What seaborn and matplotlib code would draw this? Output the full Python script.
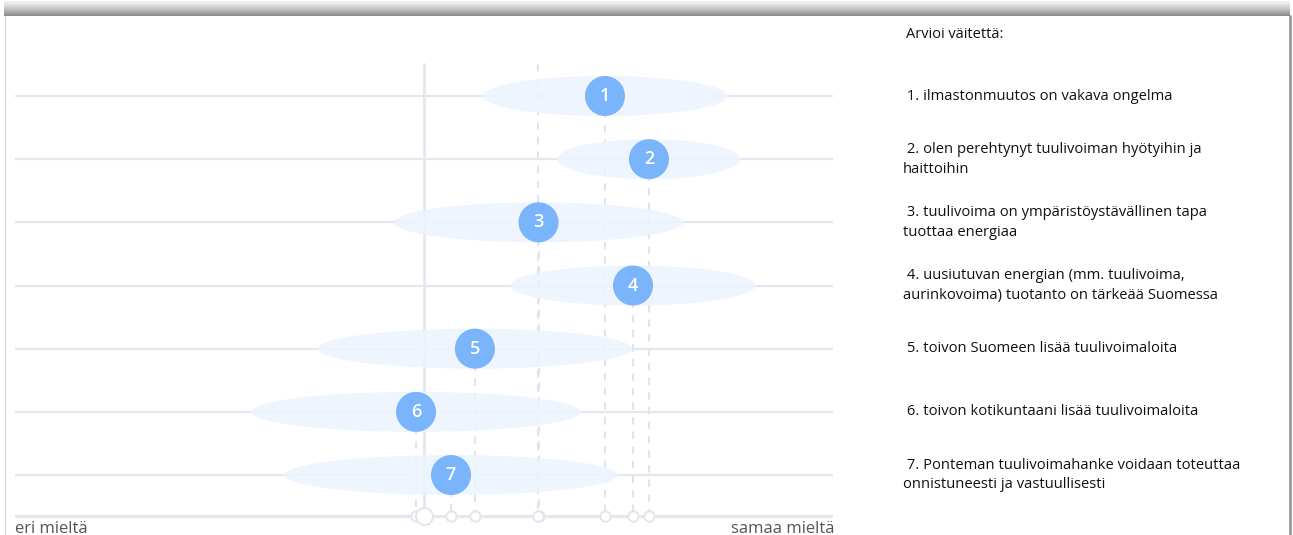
import numpy as np
import pandas as pd
import matplotlib
matplotlib.use("Agg")
import matplotlib.pyplot as plt
import matplotlib.transforms as mtransforms
from matplotlib.patches import Ellipse
import seaborn as sns

# data: mean and spread of answers (scale 1 = eri mieltä ... 5 = samaa mieltä)
item_no = [1, 2, 3, 4, 5, 6, 7]
means = [3.885, 4.10, 3.56, 4.022, 3.249, 2.961, 3.132]
spreads = [0.598, 0.447, 0.706, 0.599, 0.770, 0.808, 0.815]
statements = [
    " 1. ilmastonmuutos on vakava ongelma",
    " 2. olen perehtynyt tuulivoiman hyötyihin ja\nhaittoihin",
    " 3. tuulivoima on ympäristöystävällinen tapa\ntuottaa energiaa",
    " 4. uusiutuvan energian (mm. tuulivoima,\naurinkovoima) tuotanto on tärkeää Suomessa",
    " 5. toivon Suomeen lisää tuulivoimaloita",
    " 6. toivon kotikuntaani lisää tuulivoimaloita",
    " 7. Ponteman tuulivoimahanke voidaan toteuttaa\nonnistuneesti ja vastuullisesti",
]
scale_min, scale_max = 1, 5
left_label = "eri mieltä"
right_label = "samaa mieltä"
heading = "Arvioi väitettä:"

df = pd.DataFrame({"item": item_no, "mean": means, "spread": spreads})

sns.set_theme(style="white")
plt.rcParams["font.family"] = ["Open Sans", "DejaVu Sans"]

W, H = 1293, 535
fig = plt.figure(figsize=(W / 100, H / 100), dpi=100)
fig.patch.set_facecolor("white")

# card background with top shadow
bg = fig.add_axes([0, 0, 1, 1], zorder=-5)
bg.set_xlim(0, W)
bg.set_ylim(H, 0)
bg.axis("off")
grad = np.linspace(0, 1, 50).reshape(-1, 1) ** 1.3
bg.imshow(grad, extent=[4, W - 3, 16, 1], cmap=sns.blend_palette(["#f2f2f2", "#888888"], as_cmap=True),
          aspect="auto", zorder=0)
bg.plot([5, 5], [16, H], color="#d8d8d8", lw=1)
bg.plot([W - 3, W - 3], [16, H], color="#9a9a9a", lw=2)

# main chart axes: x 15..833 px, y 40..535 px
ax = fig.add_axes([15 / W, 0, 818 / W, (H - 40) / H])
ax.axis("off")
ax.set_xlim(scale_min, scale_max)
row_px = 63.17
ax.set_ylim(1 + (535 - 96) / row_px, 1 - (96 - 40) / row_px)

line_col = "#e3e8ee"
axis_y = 7.65
top_y = 0.5
center = (scale_min + scale_max) / 2

# horizontal row lines
for r in df["item"]:
    ax.plot([scale_min, scale_max], [r, r], color=line_col, lw=1.6, zorder=1)
ax.plot([scale_min, scale_max], [axis_y, axis_y], color=line_col, lw=2.2, zorder=1)

# centre line
ax.plot([center, center], [top_y, axis_y], color="#e4e8ec", lw=2.0, zorder=1)

# overall mean dashed line
overall = np.mean(means)
ax.plot([overall, overall], [top_y, axis_y], color="#dfe5eb", lw=1.5,
        dashes=(3.5, 3.5), zorder=1)

# dashed lines from each bubble to the axis
for r, m in zip(df["item"], df["mean"]):
    ax.plot([m, m], [r, axis_y], color="#dfe5eb", lw=1.5, dashes=(3.5, 3.5), zorder=1)

# spread ellipses
for r, m, s in zip(df["item"], df["mean"], df["spread"]):
    ax.add_patch(Ellipse((m, r), 2 * s, 40 / row_px, facecolor="#edf4fe",
                         edgecolor="none", zorder=2, alpha=0.85))

# bubbles
sns.scatterplot(data=df, x="mean", y="item", s=830, color="#7ab4fb",
                edgecolor="none", ax=ax, zorder=4, legend=False)
for r, m in zip(df["item"], df["mean"]):
    ax.text(m, r, str(r), color="white", fontsize=13, fontweight="semibold",
            ha="center", va="center", zorder=5)
ax.set_xlabel("")
ax.set_ylabel("")

# markers on the bottom axis
marks = list(means) + [overall]
ax.scatter(marks, [axis_y] * len(marks), s=55, facecolor="white",
           edgecolor="#e1e6eb", linewidth=1.4, zorder=3, clip_on=False)
ax.scatter([center], [axis_y], s=150, facecolor="white",
           edgecolor="#e1e6eb", linewidth=1.4, zorder=3, clip_on=False)

# scale end labels
label_y = 1 + (529 - 96) / row_px
ax.text(scale_min, label_y, left_label, ha="left", va="center", fontsize=12,
        color="#555555")
ax.text(scale_max + 0.005, label_y, right_label, ha="right", va="center",
        fontsize=12, color="#555555")

# statements on the right
tr = mtransforms.blended_transform_factory(fig.transFigure, ax.transData)
ax.text(906 / W, 1 - (96 - 34) / row_px, heading, transform=tr, ha="left",
        va="center", fontsize=10.5, color="#111111", clip_on=False)
for r, txt in zip(df["item"], statements):
    ax.text(903 / W, r, txt, transform=tr, ha="left", va="center",
            fontsize=10.6, color="#111111", linespacing=1.45, clip_on=False)

fig.savefig("out.png", dpi=100)
